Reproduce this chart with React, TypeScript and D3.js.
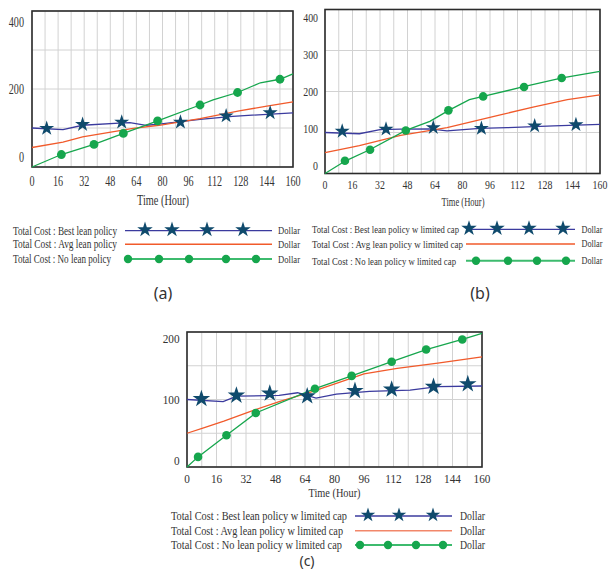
import React from "react";
import * as d3 from "d3";

// ---------- data ----------
const xTicks = [0, 16, 32, 48, 64, 80, 96, 112, 128, 144, 160];

// Panel (a)
const bestA: [number, number][] = [[0, 100], [19, 96], [31, 107], [56, 113], [60, 114], [70, 107], [78, 110], [103, 122], [123, 130], [160, 139]];
const avgA: [number, number][] = [[0, 50], [19, 64], [31, 77], [62, 99], [78, 107], [103, 124], [127, 144], [144, 156], [160, 167]];
const noneA: [number, number][] = [[0, 0], [18, 32], [38, 58], [56, 86], [77, 118], [103, 159], [111, 172], [126, 191], [140, 216], [152, 225], [160, 239]];
const bestMarksA: [number, number][] = [[9, 99], [31, 109], [55, 115], [91, 115], [119, 131], [146, 139]];
const noneMarksA: [number, number][] = [[18, 32], [38, 58], [56, 86], [77, 118], [103, 159], [126, 191], [152, 225]];

// Panel (b)
const bestB: [number, number][] = [[0, 100], [20, 97], [32, 107], [44, 108], [61, 109], [71, 104], [90, 110], [106, 112], [133, 116], [160, 120]];
const avgB: [number, number][] = [[0, 51], [20, 68], [44, 93], [71, 112], [102, 143], [121, 162], [141, 180], [160, 192]];
const noneB: [number, number][] = [[0, 0], [12, 31], [26, 58], [47, 105], [61, 127], [72, 154], [84, 180], [92, 188], [115, 211], [138, 233], [160, 249]];
const bestMarksB: [number, number][] = [[10, 103], [35.5, 108], [63, 112], [91, 110], [122, 116], [146, 119]];
const noneMarksB: [number, number][] = [[11.6, 31], [26.2, 58], [47, 105], [71.8, 154], [92, 188], [115.8, 211], [137.7, 233]];

// Panel (c)
const bestC: [number, number][] = [[0, 100], [19.6, 97], [27, 105], [50, 106], [60, 110], [70, 102], [81, 108], [99, 112], [121, 114], [136, 119], [160, 120]];
const avgC: [number, number][] = [[0, 50], [9, 58], [20, 68], [36, 84], [50, 97], [67, 111], [81, 124], [96, 138], [114, 146], [136, 154], [160, 163]];
const noneC: [number, number][] = [[0, 0], [6, 15], [21.4, 47], [37.3, 80], [69.4, 116], [89.3, 135], [111, 156], [129.7, 174], [149.3, 189], [160, 198]];
const bestMarksC: [number, number][] = [[7.8, 101], [26.8, 106], [44.9, 109], [65.2, 105], [91.1, 113], [111, 115], [133.7, 119], [152.3, 123]];
const noneMarksC: [number, number][] = [[6, 15], [21.4, 47], [37.3, 80], [69.4, 116], [89.3, 135], [111, 156], [129.7, 174], [149.3, 189]];

const legendA = ["Total Cost : Best lean policy", "Total Cost : Avg lean policy", "Total Cost : No lean policy"];
const legendBC = ["Total Cost : Best lean policy w limited cap", "Total Cost : Avg lean policy w limited cap", "Total Cost : No lean policy w limited cap"];

// ---------- styles ----------
const BLUE = "#3b3b9e";
const STAR = "#0f4a6c";
const ORANGE = "#f15a2b";
const GREEN = "#16a64d";
const GREEN_LEG = "#3dbb6e";
const GRID = "#d2d2d2";
const SERIF = "'Liberation Serif', 'Times New Roman', serif";

type Cfg = {
  x0: number; x1: number; yTop: number; yBot: number; yMax: number; gridStep: number;
  yLabels: number[]; inset: number; yLabelRight: number; fs: number; sx: number; xTickY: number;
  titleX: number; titleY: number; titleW: number;
  starSize: number; dotR: number;
  legX: number; legRows: number[]; legW: number[]; legFs: number; lx0: number; lx1: number;
  dollarX: number; dollarW: number; dollarFs: number;
  legStars: number[]; legDots: number[]; legStarSize: number; legOrange: string;
  cap: string; capX: number; capY: number; capFs: number;
};

const cfgA: Cfg = {
  x0: 32, x1: 293, yTop: 11, yBot: 167, yMax: 400, gridStep: 100, yLabels: [0, 200, 400], inset: 10.5,
  yLabelRight: 24, fs: 14.5, sx: 0.7, xTickY: 186, titleX: 163, titleY: 204.5, titleW: 52,
  starSize: 70, dotR: 4.4,
  legX: 13, legRows: [230.7, 244.3, 259], legW: [104, 104, 98], legFs: 11.5, lx0: 125, lx1: 272,
  dollarX: 278, dollarW: 22, dollarFs: 10.5,
  legStars: [145, 172, 207, 243], legDots: [128, 159, 189, 226, 256], legStarSize: 75, legOrange: ORANGE,
  cap: "(a)", capX: 163, capY: 299, capFs: 16,
};
const cfgB: Cfg = {
  x0: 325, x1: 600, yTop: 9.5, yBot: 173.5, yMax: 400, gridStep: 100, yLabels: [0, 100, 200, 300, 400], inset: 7.7,
  yLabelRight: 318, fs: 13, sx: 0.76, xTickY: 189, titleX: 463, titleY: 205.5, titleW: 43,
  starSize: 70, dotR: 4.3,
  legX: 312, legRows: [229.3, 244, 260.7], legW: [147, 151, 144], legFs: 11, lx0: 466, lx1: 575,
  dollarX: 581.5, dollarW: 21, dollarFs: 9.5,
  legStars: [469, 497, 529, 563], legDots: [476, 508, 537, 566], legStarSize: 75, legOrange: ORANGE,
  cap: "(b)", capX: 480, capY: 299, capFs: 16,
};
const cfgC: Cfg = {
  x0: 187, x1: 482, yTop: 332, yBot: 467, yMax: 200, gridStep: 50, yLabels: [0, 100, 200], inset: 6.5,
  yLabelRight: 179.5, fs: 12.5, sx: 0.9, xTickY: 482.5, titleX: 334.5, titleY: 496.5, titleW: 52,
  starSize: 95, dotR: 4.3,
  legX: 171, legRows: [516, 530.7, 545], legW: [176, 172, 171], legFs: 12, lx0: 355, lx1: 452,
  dollarX: 460, dollarW: 25, dollarFs: 12,
  legStars: [368, 399, 433], legDots: [360, 388, 416, 443], legStarSize: 65, legOrange: "#f2876a",
  cap: "(c)", capX: 307, capY: 566, capFs: 14,
};

function Panel({ cfg, best, avg, none, bestMarks, noneMarks, labels }: {
  cfg: Cfg; best: [number, number][]; avg: [number, number][]; none: [number, number][];
  bestMarks: [number, number][]; noneMarks: [number, number][]; labels: string[];
}) {
  const x = d3.scaleLinear().domain([0, 160]).range([cfg.x0, cfg.x1]);
  const y = d3.scaleLinear().domain([0, cfg.yMax]).range([cfg.yBot, cfg.yTop]);
  const yl = d3.scaleLinear().domain([0, cfg.yMax]).range([cfg.yBot - cfg.inset, cfg.yTop + cfg.inset]);
  const line = d3.line<[number, number]>().x((d) => x(d[0])).y((d) => y(d[1]));
  const star = d3.symbol(d3.symbolStar, cfg.starSize)()!;
  const legStar = d3.symbol(d3.symbolStar, cfg.legStarSize)()!;
  const vGrid = d3.range(0, 161, 8);
  const hGrid = d3.range(0, cfg.yMax + 1, cfg.gridStep);

  return (
    <g>
      {vGrid.map((t) => (
        <line key={"v" + t} x1={x(t)} x2={x(t)} y1={cfg.yTop} y2={cfg.yBot} stroke={GRID} strokeWidth={1} />
      ))}
      {hGrid.map((v) => (
        <line key={"h" + v} x1={cfg.x0} x2={cfg.x1} y1={y(v)} y2={y(v)} stroke={GRID} strokeWidth={1} />
      ))}
      <rect x={cfg.x0} y={cfg.yTop} width={cfg.x1 - cfg.x0} height={cfg.yBot - cfg.yTop} fill="none" stroke="#2b2b2b" strokeWidth={1.6} />

      <path d={line(best)!} fill="none" stroke={BLUE} strokeWidth={1.3} />
      <path d={line(avg)!} fill="none" stroke={ORANGE} strokeWidth={1.3} />
      <path d={line(none)!} fill="none" stroke={GREEN} strokeWidth={1.3} />
      {bestMarks.map((d, i) => (
        <path key={"s" + i} d={star} transform={`translate(${x(d[0])},${y(d[1])})`} fill={STAR} />
      ))}
      {noneMarks.map((d, i) => (
        <circle key={"c" + i} cx={x(d[0])} cy={y(d[1])} r={cfg.dotR} fill={GREEN} />
      ))}

      {xTicks.map((t) => (
        <text key={"xt" + t} transform={`translate(${x(t)},${cfg.xTickY}) scale(${cfg.sx},1)`} textAnchor="middle"
          fontFamily={SERIF} fontSize={cfg.fs} fill="#333">{t}</text>
      ))}
      {cfg.yLabels.map((v) => (
        <text key={"yt" + v} transform={`translate(${cfg.yLabelRight},${yl(v)}) scale(${cfg.sx},1)`} textAnchor="end"
          dy="0.35em" fontFamily={SERIF} fontSize={cfg.fs} fill="#333">{v}</text>
      ))}
      <text x={cfg.titleX - cfg.titleW / 2} y={cfg.titleY} textLength={cfg.titleW} lengthAdjust="spacingAndGlyphs"
        fontFamily={SERIF} fontSize={cfg.fs} fill="#333">Time (Hour)</text>

      {labels.map((lab, i) => (
        <g key={"lg" + i}>
          <text x={cfg.legX} y={cfg.legRows[i]} dy="0.35em" textLength={cfg.legW[i]} lengthAdjust="spacingAndGlyphs"
            fontFamily={SERIF} fontSize={cfg.legFs} fill="#333">{lab}</text>
          <text x={cfg.dollarX} y={cfg.legRows[i]} dy="0.35em" textLength={cfg.dollarW} lengthAdjust="spacingAndGlyphs"
            fontFamily={SERIF} fontSize={cfg.dollarFs} fill="#333">Dollar</text>
        </g>
      ))}
      <line x1={cfg.lx0} x2={cfg.lx1} y1={cfg.legRows[0]} y2={cfg.legRows[0]} stroke={BLUE} strokeWidth={1.3} />
      <line x1={cfg.lx0} x2={cfg.lx1} y1={cfg.legRows[1]} y2={cfg.legRows[1]} stroke={cfg.legOrange} strokeWidth={1.5} />
      <line x1={cfg.lx0} x2={cfg.lx1} y1={cfg.legRows[2]} y2={cfg.legRows[2]} stroke={GREEN_LEG} strokeWidth={2} />
      {cfg.legStars.map((px, i) => (
        <path key={"ls" + i} d={legStar} transform={`translate(${px},${cfg.legRows[0] - 1})`} fill={STAR} />
      ))}
      {cfg.legDots.map((px, i) => (
        <circle key={"ld" + i} cx={px} cy={cfg.legRows[2]} r={4.2} fill={GREEN} />
      ))}

      <text x={cfg.capX} y={cfg.capY} textAnchor="middle" fontFamily="'Noto Sans', 'DejaVu Sans', sans-serif" fontSize={cfg.capFs} fill="#333">{cfg.cap}</text>
    </g>
  );
}

export default function App() {
  return (
    <svg width={608} height={571} style={{ position: "absolute", left: 0, top: 0, background: "#fff" }}>
      <rect width={608} height={571} fill="#fff" />
      <Panel cfg={cfgA} best={bestA} avg={avgA} none={noneA} bestMarks={bestMarksA} noneMarks={noneMarksA} labels={legendA} />
      <Panel cfg={cfgB} best={bestB} avg={avgB} none={noneB} bestMarks={bestMarksB} noneMarks={noneMarksB} labels={legendBC} />
      <Panel cfg={cfgC} best={bestC} avg={avgC} none={noneC} bestMarks={bestMarksC} noneMarks={noneMarksC} labels={legendBC} />
    </svg>
  );
}
